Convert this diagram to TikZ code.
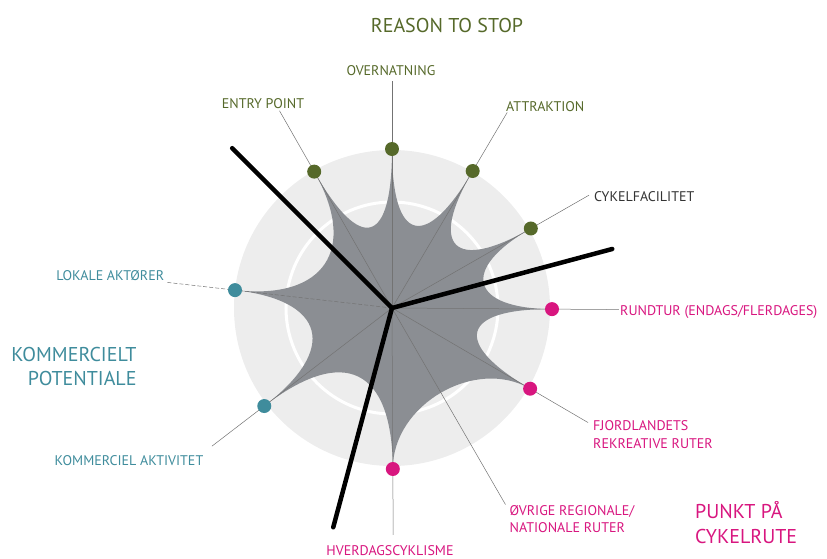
\documentclass[tikz,border=0pt]{standalone}
\usepackage{fontspec}
\setmainfont{PT Sans}
\definecolor{stopgreen}{HTML}{56692A}
\definecolor{komteal}{HTML}{3F8C9C}
\definecolor{rutepink}{HTML}{D8167F}
\definecolor{webgray}{HTML}{8B8E93}
\definecolor{discgray}{HTML}{EDEDED}
\begin{document}
\begin{tikzpicture}[x=1pt, y=1pt,
    spoke/.style={draw=black!55, line width=0.5pt},
    cut/.style={line width=4.5pt, line cap=round},
    lbl/.style={font=\fontsize{14}{16}\selectfont, inner sep=0pt},
    head/.style={font=\fontsize{20}{24}\selectfont, inner sep=0pt}]
  \useasboundingbox (-392,-250) rectangle (435,308);
  \coordinate (O) at (0,0);

  % background disc and ring
  \fill[discgray] (O) circle (158);
  \draw[white, line width=3pt] (O) circle (106);

  % tips of the web
  \foreach \n/\a/\r in {entry/119.7/157, overn/90/159, attr/59.5/159,
      cykel/29.8/160, rund/-0.4/160, fjord/-30.3/160, hverd/-89.7/161,
      komm/-142.5/161, lok/-186.5/158} {
    \coordinate (\n) at (\a:\r);
    \coordinate (\n-end) at (\a:227);
  }
  \coordinate (ovrig-end) at (-60:227);

  \fill[webgray] (entry)
    .. controls (119.7:62.6) and (90:62.6) .. (overn)
    .. controls (90:65.3) and (59.5:65.3) .. (attr)
    .. controls (59.5:71.1) and (29.8:71.1) .. (cykel)
    .. controls (29.8:77.9) and (-0.4:77.9) .. (rund)
    .. controls (-0.4:68.9) and (-30.3:68.9) .. (fjord)
    .. controls (-30.3:96.6) and (-89.7:96.6) .. (hverd)
    .. controls (-89.7:60.1) and (-142.5:60.1) .. (komm)
    .. controls (-142.5:67) and (-186.5:67) .. (lok)
    .. controls (-186.5:67.7) and (-240.3:67.7) .. (entry) -- cycle;

  % spokes and leaders
  \foreach \n in {entry, overn, attr, cykel, rund, fjord, hverd, komm, ovrig}
    \draw[spoke] (O) -- (\n-end);
  \draw[spoke, dash pattern=on 4pt off 2pt] (O) -- (lok-end);

  % the three cuts
  \coordinate (cutA) at (135:226);
  \coordinate (cutB) at (15:228);
  \coordinate (cutC) at (255:227);
  \draw[cut] (O) -- (cutA);
  \draw[cut] (O) -- (cutB);
  \draw[cut] (O) -- (cutC);

  % dots
  \foreach \n/\c in {entry/stopgreen, overn/stopgreen, attr/stopgreen,
      cykel/stopgreen, rund/rutepink, fjord/rutepink, hverd/rutepink,
      komm/komteal, lok/komteal}
    \fill[\c] (\n) circle (7);

  % labels
  \node[head, text=stopgreen, anchor=base] (reason) at (55,276) {REASON TO STOP};
  \node[lbl, text=stopgreen, anchor=base] (overnL) at (-1,233) {OVERNATNING};
  \node[lbl, text=stopgreen, anchor=base] (entryL) at (-129,200) {ENTRY POINT};
  \node[lbl, text=stopgreen, anchor=base west] (attrL) at (114,197) {ATTRAKTION};
  \node[lbl, text=black!80, anchor=base west] (cykelL) at (202,107) {CYKELFACILITET};
  \node[lbl, text=rutepink, anchor=base west] (rundL) at (228,-7) {RUNDTUR (ENDAGS/FLERDAGES)};
  \node[lbl, text=rutepink, anchor=base west] (fjordL) at (201,-122) {FJORDLANDETS};
  \node[lbl, text=rutepink, anchor=base west] (fjordL2) at (201,-140) {REKREATIVE RUTER};
  \node[lbl, text=rutepink, anchor=base west] (ovrigL) at (117.5,-207.5) {ØVRIGE REGIONALE/};
  \node[lbl, text=rutepink, anchor=base west] (ovrigL2) at (117.5,-224.5) {NATIONALE RUTER};
  \node[head, text=rutepink, anchor=base west] (punkt) at (303,-210) {PUNKT PÅ};
  \node[head, text=rutepink, anchor=base west] (punkt2) at (303,-235) {CYKELRUTE};
  \node[lbl, text=rutepink, anchor=base] (hverdL) at (-2,-247) {HVERDAGSCYKLISME};
  \node[lbl, text=komteal, anchor=base] (kommL) at (-263,-157) {KOMMERCIEL AKTIVITET};
  \node[lbl, text=komteal, anchor=base east] (lokL) at (-227.7,28) {LOKALE AKTØRER};
  \node[head, text=komteal, anchor=base east] (kompot) at (-255.3,-53.7) {KOMMERCIELT};
  \node[head, text=komteal, anchor=base east] (kompot2) at (-255.3,-77) {POTENTIALE};
\end{tikzpicture}
\end{document}
